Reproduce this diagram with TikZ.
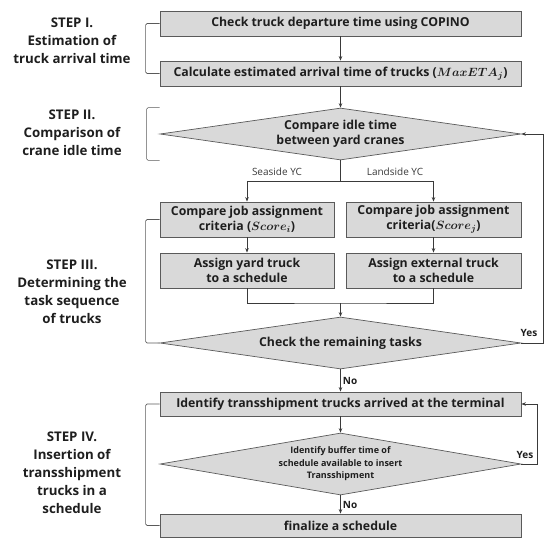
\documentclass[tikz,border=0pt]{standalone}
\usepackage{fontspec}
\setmainfont{Open Sans}
\usepackage{bm}
\usetikzlibrary{arrows.meta,shapes.geometric}

\definecolor{boxfill}{HTML}{D9D9D9}
\definecolor{boxline}{HTML}{5A5A5A}
\definecolor{flowline}{HTML}{3A3A3A}
\definecolor{inktext}{HTML}{1E1E1E}

\begin{document}
\begin{tikzpicture}[x=1pt,y=-1pt,
    procbox/.style={draw=boxline,fill=boxfill,line width=0.8pt,minimum width=361pt,minimum height=25pt,
        inner sep=0pt,align=center,text=inktext,font=\bfseries\fontsize{12.3}{15}\selectfont},
    halfbox/.style={procbox,minimum width=174pt,minimum height=35pt},
    decision/.style={diamond,draw=boxline,fill=boxfill,line width=0.7pt,minimum width=361pt,inner sep=0pt},
    inside/.style={align=center,text=inktext,font=\bfseries\fontsize{12.3}{15}\selectfont},
    flow/.style={draw=flowline,line width=0.8pt,-{Stealth[length=4.5pt,width=3.5pt]}},
    joinline/.style={draw=flowline,line width=0.8pt},
    bracket/.style={draw=boxline,line width=0.6pt,rounded corners=1.5pt},
    steplabel/.style={align=center,text=inktext,font=\bfseries\fontsize{13.3}{18}\selectfont},
    branchlabel/.style={text=flowline,font=\fontsize{10}{12}\selectfont},
    answer/.style={text=inktext,inner sep=2pt,font=\bfseries\fontsize{10}{12}\selectfont}
]
\useasboundingbox (0,0) rectangle (548,538);

% === STEP I: truck arrival time ===
\node[steplabel] (stepI) at (72,41) {STEP I.\\Estimation of\\truck arrival time};
\node[procbox] (copino) at (340.5,23.5) {Check truck departure time using COPINO};
\node[procbox] (eta) at (340.5,73.5) {Calculate estimated arrival time of trucks ($\bm{MaxETA_j}$)};
\draw[flow] (copino) -- (eta);
\draw[bracket] (copino.west) -- ++(-14,0) |- (eta.west);

% === STEP II: crane idle time ===
\node[steplabel] (stepII) at (72,133) {STEP II.\\Comparison of\\crane idle time};
\node[decision,minimum height=52pt,
    label={[inside]center:{Compare idle time\\between yard cranes}}] (idle) at (340.5,134) {};
\draw[flow] (eta) -- (idle);
\draw[bracket] (idle.north -| idle.west) -- ++(-13,0) |- (idle.south -| idle.west);

% === STEP III: task sequence ===
\node[steplabel] (stepIII) at (72,292) {STEP III.\\Determining the\\task sequence\\of trucks};
\coordinate (split) at (340.5,181);
\node[branchlabel] (seaLbl) at (277,172) {Seaside YC};
\node[branchlabel] (landLbl) at (395,172) {Landside YC};

\node[halfbox] (seaJob) at (247,219.5) {Compare job assignment\\criteria ($\bm{Score_i}$)};
\node[halfbox,minimum width=175pt] (landJob) at (433.5,219.5) {Compare job assignment\\criteria($\bm{Score_j}$)};
\node[halfbox] (seaAssign) at (247,270.5) {Assign yard truck\\to a schedule};
\node[halfbox,minimum width=175pt] (landAssign) at (433.5,270.5) {Assign external truck\\to a schedule};

\draw[joinline] (idle.south) -- (split);
\draw[flow] (split) -| (seaJob.north);
\draw[flow] (split) -| (landJob.north);
\draw[flow] (seaJob) -- (seaAssign);
\draw[flow] (landJob) -- (landAssign);

\coordinate (merge) at (340.5,303);
\node[decision,minimum height=52pt,
    label={[inside]center:{Check the remaining tasks}}] (remain) at (340.5,343) {};
\draw[joinline] (seaAssign.south) |- (merge) -| (landAssign.south);
\draw[flow] (merge) -- (remain.north);
% loop back to the idle time check
\draw[flow] (remain.east) -- ++(22,0) |- (idle.east);
\node[answer] (yesRemain) at (529,333) {Yes};
\draw[bracket] (seaJob.west) -- ++(-14,0) |- (remain.west);

% === STEP IV: transshipment trucks ===
\node[steplabel] (stepIV) at (72,473) {STEP IV.\\Insertion of\\transshipment\\trucks in a\\schedule};
\node[procbox,minimum height=24pt] (arrived) at (340.5,404) {Identify transshipment trucks arrived at the terminal};
\draw[flow] (remain.south) -- node[answer,right] {No} (arrived.north);

\node[decision,minimum height=62pt,
    label={[inside,font=\bfseries\fontsize{9}{12.5}\selectfont]center:{Identify buffer time of\\schedule available to insert\\Transshipment}}] (buffer) at (340.5,464) {};
\draw[flow] (arrived) -- (buffer);
\draw[flow] (buffer.east) -- ++(16,0) |- (arrived.east);
\node[answer] (yesBuffer) at (525,455) {Yes};

\node[procbox,minimum height=23pt] (final) at (340.5,525.5) {finalize a schedule};
\draw[flow] (buffer.south) -- node[answer,right] {No} (final.north);
\draw[bracket] (arrived.west) -- ++(-14,0) |- (final.west);

\end{tikzpicture}
\end{document}
